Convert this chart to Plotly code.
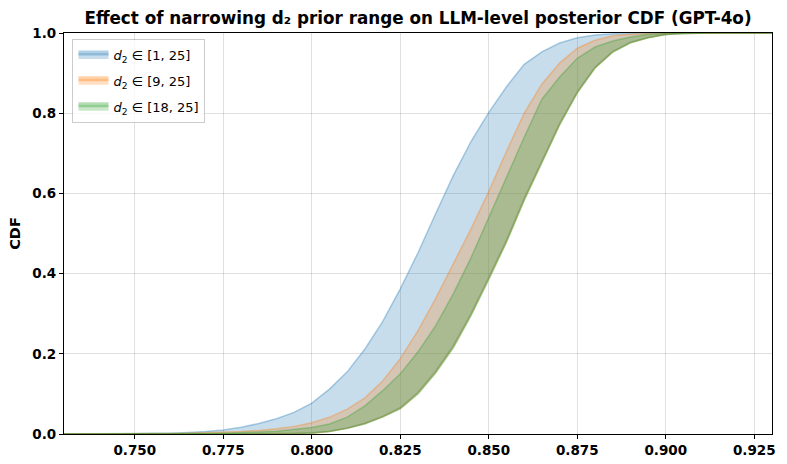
import plotly.graph_objects as go

x_vals = [0.730, 0.735, 0.740, 0.745, 0.750, 0.755, 0.760, 0.765, 0.770, 0.775,
          0.780, 0.785, 0.790, 0.795, 0.800, 0.805, 0.810, 0.815, 0.820, 0.825,
          0.830, 0.835, 0.840, 0.845, 0.850, 0.855, 0.860, 0.865, 0.870, 0.875,
          0.880, 0.885, 0.890, 0.895, 0.900, 0.905, 0.910, 0.915, 0.920, 0.925, 0.930]

# d2 in [1, 25]
blue_upper = [0.000, 0.000, 0.000, 0.001, 0.001, 0.002, 0.002, 0.004, 0.006, 0.010,
              0.017, 0.026, 0.038, 0.054, 0.077, 0.112, 0.155, 0.212, 0.280, 0.362,
              0.452, 0.550, 0.645, 0.730, 0.802, 0.866, 0.922, 0.953, 0.975, 0.988,
              0.995, 0.998, 0.999, 1.000, 1.000, 1.000, 1.000, 1.000, 1.000, 1.000, 1.000]
blue_lower = [0.000, 0.000, 0.000, 0.000, 0.000, 0.000, 0.000, 0.000, 0.000, 0.000,
              0.000, 0.000, 0.000, 0.001, 0.003, 0.007, 0.015, 0.027, 0.044, 0.066,
              0.104, 0.157, 0.221, 0.301, 0.391, 0.484, 0.588, 0.681, 0.775, 0.854,
              0.915, 0.954, 0.977, 0.989, 0.996, 0.999, 1.000, 1.000, 1.000, 1.000, 1.000]

# d2 in [9, 25]
orange_upper = [0.000, 0.000, 0.000, 0.000, 0.0005, 0.001, 0.001, 0.002, 0.003, 0.004,
                0.006, 0.009, 0.013, 0.019, 0.028, 0.042, 0.062, 0.090, 0.132, 0.188,
                0.258, 0.338, 0.425, 0.512, 0.605, 0.705, 0.800, 0.873, 0.925, 0.962,
                0.982, 0.993, 0.997, 0.999, 1.000, 1.000, 1.000, 1.000, 1.000, 1.000, 1.000]
orange_lower = [0.000, 0.000, 0.000, 0.000, 0.000, 0.000, 0.000, 0.000, 0.000, 0.000,
                0.000, 0.000, 0.000, 0.001, 0.002, 0.006, 0.014, 0.026, 0.043, 0.064,
                0.102, 0.154, 0.218, 0.298, 0.388, 0.480, 0.585, 0.678, 0.772, 0.852,
                0.913, 0.953, 0.976, 0.988, 0.996, 0.999, 1.000, 1.000, 1.000, 1.000, 1.000]

# d2 in [18, 25]
green_upper = [0.000, 0.000, 0.000, 0.000, 0.000, 0.000, 0.000, 0.001, 0.001, 0.002,
               0.003, 0.005, 0.007, 0.011, 0.016, 0.025, 0.042, 0.070, 0.108, 0.150,
               0.205, 0.270, 0.350, 0.440, 0.540, 0.640, 0.740, 0.835, 0.890, 0.937,
               0.965, 0.980, 0.990, 0.996, 0.999, 1.000, 1.000, 1.000, 1.000, 1.000, 1.000]
green_lower = [0.000, 0.000, 0.000, 0.000, 0.000, 0.000, 0.000, 0.000, 0.000, 0.000,
               0.000, 0.000, 0.000, 0.001, 0.002, 0.006, 0.014, 0.025, 0.042, 0.063,
               0.100, 0.152, 0.215, 0.295, 0.385, 0.478, 0.582, 0.675, 0.770, 0.850,
               0.912, 0.952, 0.975, 0.988, 0.996, 0.999, 1.000, 1.000, 1.000, 1.000, 1.000]

labels = ["<i>d</i><sub>2</sub> ∈ [1, 25]",
          "<i>d</i><sub>2</sub> ∈ [9, 25]",
          "<i>d</i><sub>2</sub> ∈ [18, 25]"]
rgb = ["31,119,180", "255,127,14", "44,160,44"]
bands = [(blue_lower, blue_upper), (orange_lower, orange_upper), (green_lower, green_upper)]

x_ticks = [0.750, 0.775, 0.800, 0.825, 0.850, 0.875, 0.900, 0.925]
y_ticks = [0.0, 0.2, 0.4, 0.6, 0.8, 1.0]

fig = go.Figure()
for i, ((lo, up), c, lab) in enumerate(zip(bands, rgb, labels)):
    fig.add_trace(go.Scatter(x=x_vals, y=lo, mode="lines",
                             line=dict(color=f"rgba({c},0.35)", width=1.5),
                             legendgroup=f"g{i}",
                             showlegend=False, hoverinfo="skip"))
    fig.add_trace(go.Scatter(x=x_vals, y=up, mode="lines", fill="tonexty",
                             fillcolor=f"rgba({c},0.25)",
                             line=dict(color=f"rgba({c},0.35)", width=1.5),
                             legendgroup=f"g{i}",
                             name=lab))

axis_common = dict(showline=True, linecolor="black", linewidth=1.2, mirror=True,
                   ticks="outside", ticklen=4, tickcolor="black",
                   showgrid=True, gridcolor="rgba(0,0,0,0.12)", gridwidth=1,
                   zeroline=False, automargin=False,
                   tickfont=dict(family="DejaVu Sans", size=13.5, color="black", weight="bold"))

fig.update_layout(
    width=787, height=464,
    margin=dict(l=64, r=15, t=33, b=30, autoexpand=False),
    paper_bgcolor="white", plot_bgcolor="white",
    title=dict(text="<b>Effect of narrowing d₂ prior range on LLM-level posterior CDF (GPT-4o)</b>",
               x=418 / 787, xanchor="center", y=0.962, yanchor="middle",
               font=dict(family="DejaVu Sans", size=16.8, color="black")),
    xaxis=dict(range=[0.73, 0.93], tickvals=x_ticks, tickformat=".3f", **axis_common),
    yaxis=dict(range=[0, 1], tickvals=y_ticks, tickformat=".1f",
               title=dict(text="<b>CDF</b>", font=dict(family="DejaVu Sans", size=14.5, color="black"),
                          standoff=8),
               **axis_common),
    legend=dict(x=0.012, y=0.985, xanchor="left", yanchor="top",
                bgcolor="rgba(255,255,255,0.8)", bordercolor="rgba(0,0,0,0.2)", borderwidth=1,
                font=dict(family="DejaVu Sans", size=13, color="black"),
                traceorder="grouped", itemsizing="constant", tracegroupgap=6),
    showlegend=True,
)

fig.write_html("out.html", config={"displayModeBar": False},
               post_script="document.body.style.margin='0px';document.body.style.padding='0px';")
